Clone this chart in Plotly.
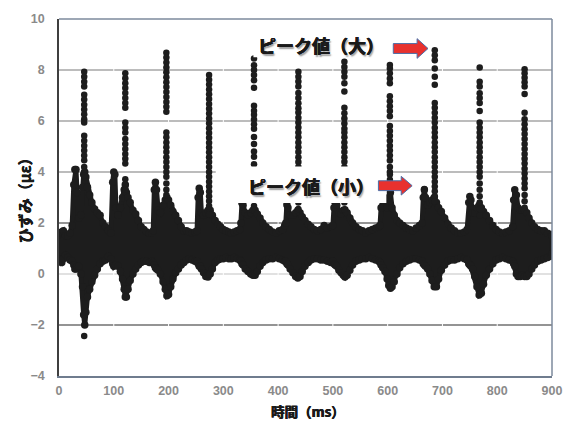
import plotly.graph_objects as go

# ---------------- data ----------------
# envelope of the dense band of samples: time (ms), upper and lower strain (με)
env_t = [0, 2, 5, 8, 12, 16, 20, 24, 27, 29, 31, 33, 36, 40, 43, 45, 47, 49, 52, 56, 60, 65, 70, 75, 80, 85, 90, 95,
         98, 100, 102, 104, 108, 112, 116, 119, 121, 123, 126, 130, 135, 140, 145, 150, 155, 160, 165, 170,
         172, 174, 176, 178, 181, 185, 190, 194, 197, 200, 204, 208, 213, 218, 223, 228, 233, 238, 243, 248,
         252, 254, 256, 258, 260, 264, 268, 272, 276, 280, 285, 290, 295, 300, 305, 310, 315, 320, 325, 330,
         332, 334, 336, 340, 345, 350, 354, 358, 362, 367, 372, 378, 384, 390, 396, 402, 408, 412,
         414, 416, 418, 422, 427, 432, 436, 440, 444, 449, 455, 460, 466, 472, 478, 484, 490, 496,
         500, 502, 504, 507, 511, 515, 519, 522, 526, 531, 536, 542, 548, 554, 560, 566, 572, 578, 584,
         586, 588, 591, 595, 599, 602, 605, 608, 612, 617, 622, 628, 634, 640, 646, 652, 658, 663,
         665, 667, 669, 673, 677, 681, 685, 689, 693, 698, 704, 710, 716, 722, 728, 734, 740, 745,
         748, 750, 752, 755, 759, 763, 767, 771, 775, 780, 786, 792, 798, 804, 810, 816, 822, 828,
         830, 832, 835, 838, 842, 846, 850, 854, 858, 863, 868, 874, 880, 886, 892, 898, 900]
env_hi = [1.55, 1.6, 1.65, 1.7, 1.5, 1.5, 1.6, 1.9, 3.5, 4.1, 4.1, 3.2, 2.2, 2.3, 3.4, 3.9, 4.0, 3.8, 3.4, 3.1, 2.8, 2.55, 2.4, 2.3, 2.0, 1.85, 1.7, 1.6,
          3.6, 4.0, 3.9, 2.6, 2.3, 2.6, 3.0, 3.3, 3.5, 3.2, 3.0, 2.8, 2.5, 2.35, 2.1, 1.85, 1.75, 1.65, 1.6, 1.6,
          1.7, 3.3, 3.6, 3.3, 2.5, 2.4, 2.7, 2.9, 3.0, 2.9, 2.7, 2.45, 2.3, 2.1, 1.85, 1.7, 1.7, 1.65, 1.6, 1.65,
          1.7, 3.0, 3.36, 3.2, 2.4, 2.3, 2.4, 2.5, 2.5, 2.3, 2.1, 1.95, 1.85, 1.75, 1.7, 1.65, 1.6, 1.65, 1.7, 1.75,
          2.0, 2.78, 2.7, 2.4, 2.3, 2.4, 2.5, 2.5, 2.35, 2.2, 2.0, 1.85, 1.75, 1.65, 1.6, 1.7, 1.75, 1.9,
          2.0, 2.72, 2.6, 2.3, 2.3, 2.4, 2.5, 2.4, 2.25, 2.1, 1.95, 1.85, 1.75, 1.7, 1.75, 1.9, 1.8, 1.85,
          1.9, 2.6, 2.8, 2.7, 2.4, 2.35, 2.5, 2.52, 2.4, 2.2, 2.0, 1.85, 1.75, 1.7, 1.62, 1.7, 1.75, 1.8, 1.85,
          1.9, 2.6, 2.9, 2.8, 2.6, 3.0, 3.2, 2.6, 2.3, 2.1, 2.0, 1.9, 1.8, 1.75, 1.7, 1.8, 1.9, 2.0,
          3.0, 3.3, 3.0, 2.7, 2.8, 2.9, 3.0, 2.8, 2.6, 2.45, 2.2, 1.95, 1.8, 1.7, 1.6, 1.6, 1.65, 1.75,
          2.8, 3.04, 2.9, 2.4, 2.4, 2.6, 2.7, 2.6, 2.45, 2.3, 2.1, 1.9, 1.75, 1.65, 1.6, 1.65, 1.7, 1.85,
          2.9, 3.3, 3.1, 2.6, 2.5, 2.5, 2.5, 2.4, 2.2, 2.0, 1.85, 1.75, 1.7, 1.7, 1.6, 1.55, 1.5]
env_lo = [0.6, 0.5, 0.45, 0.6, 0.75, 0.65, 0.55, 0.5, 0.35, 0.2, 0.2, 0.3, 0.3, 0.0, -0.5, -1.6, -2.0, -1.5, -0.9, -0.6, -0.3, -0.05, 0.2, 0.4, 0.5, 0.55, 0.7, 0.6,
          0.4, 0.3, 0.35, 0.35, 0.3, 0.1, -0.2, -0.6, -0.9, -0.9, -0.6, -0.25, 0.0, 0.2, 0.35, 0.45, 0.5, 0.5, 0.45, 0.5,
          0.45, 0.35, 0.25, 0.2, 0.15, 0.0, -0.3, -0.6, -0.85, -0.8, -0.5, -0.2, 0.05, 0.2, 0.35, 0.45, 0.55, 0.6, 0.55, 0.5,
          0.5, 0.4, 0.3, 0.3, 0.2, 0.05, -0.1, -0.12, 0.0, 0.2, 0.45, 0.55, 0.6, 0.6, 0.65, 0.6, 0.6, 0.65, 0.6, 0.55,
          0.5, 0.4, 0.35, 0.2, 0.1, 0.0, -0.05, -0.05, 0.1, 0.3, 0.45, 0.55, 0.6, 0.6, 0.65, 0.6, 0.55, 0.5,
          0.5, 0.4, 0.35, 0.2, 0.05, -0.1, -0.16, -0.1, 0.1, 0.3, 0.45, 0.55, 0.6, 0.6, 0.55, 0.55, 0.5, 0.45,
          0.5, 0.4, 0.35, 0.3, 0.15, 0.05, -0.05, -0.12, -0.05, 0.15, 0.35, 0.5, 0.55, 0.6, 0.6, 0.65, 0.6, 0.55, 0.5,
          0.45, 0.35, 0.25, 0.1, -0.2, -0.45, -0.56, -0.5, -0.3, 0.0, 0.25, 0.4, 0.5, 0.55, 0.6, 0.6, 0.55, 0.5,
          0.4, 0.35, 0.3, 0.2, 0.0, -0.25, -0.5, -0.5, -0.2, 0.15, 0.35, 0.5, 0.55, 0.55, 0.6, 0.65, 0.6, 0.55,
          0.4, 0.35, 0.3, 0.2, -0.1, -0.5, -0.82, -0.75, -0.4, -0.05, 0.2, 0.4, 0.55, 0.6, 0.65, 0.6, 0.55, 0.5,
          0.4, 0.3, 0.0, -0.1, -0.1, -0.05, -0.1, -0.1, 0.0, 0.2, 0.35, 0.5, 0.55, 0.6, 0.65, 0.7, 0.8]

# vertical stacks of samples at each impact peak
col_t = [46, 121, 196, 274, 356, 437, 521, 604, 686, 768, 850]
col_vals = [
    [7.93, 7.74, 7.54, 7.35, 7.03, 6.84, 6.64, 6.45, 6.26, 6.07, 5.94, 5.42, 5.23, 5.03, 4.84, 4.65, 4.46, 4.2, 4.0, 3.85],
    [7.87, 7.68, 7.48, 7.29, 7.1, 6.9, 6.71, 6.52, 5.94, 5.74, 5.55, 5.29, 5.1, 4.9, 4.71, 4.52, 4.33, 3.72, 3.5, 3.3],
    [8.68, 8.49, 8.29, 8.1, 7.91, 7.72, 7.52, 7.33, 7.14, 6.94, 6.75, 6.56, 6.36, 5.55, 5.36, 5.16, 4.97, 4.78, 4.58,
     4.39, 4.2, 4.0, 3.81, 3.55, 3.3, 3.1],
    [7.8, 7.62, 7.43, 7.24, 7.05, 6.86, 6.67, 6.48, 6.29, 6.1, 5.91, 5.72, 5.53, 5.34, 5.15, 4.96, 4.77, 4.58, 4.39,
     4.2, 4.0, 3.81, 3.62, 3.43, 3.24, 3.05, 2.86, 2.67, 2.33],
    [8.45, 8.19, 8.0, 7.8, 7.6, 7.3, 6.6, 6.4, 6.25, 6.06, 5.87, 5.7, 5.37, 5.1, 4.8, 4.6, 4.3, 4.1, 3.9, 3.7, 3.5,
     3.3, 3.1, 2.9, 2.67],
    [7.93, 7.74, 7.55, 7.35, 7.1, 6.9, 6.7, 6.5, 6.33, 6.13, 5.94, 5.75, 5.55, 5.36, 5.16, 4.97, 4.78, 4.58, 4.39,
     4.2, 4.0, 3.8, 3.6, 3.4, 3.2, 3.0, 2.8, 2.55],
    [8.32, 8.12, 7.93, 7.74, 7.48, 7.16, 6.52, 6.3, 6.1, 5.9, 5.7, 5.55, 5.36, 5.16, 4.97, 4.78, 4.58, 4.4, 4.2,
     4.0, 3.8, 3.6, 3.4, 3.2, 3.0, 2.8, 2.52],
    [8.2, 8.06, 7.87, 7.67, 7.48, 6.97, 6.77, 6.58, 6.39, 6.19, 5.8, 5.61, 5.42, 5.23, 5.03, 4.84, 4.65, 4.45, 4.2,
     4.0, 3.9, 3.7, 3.5, 3.3, 3.1],
    [8.77, 8.58, 8.38, 8.06, 7.74, 7.42, 6.71, 6.52, 6.32, 6.13, 5.94, 5.74, 5.55, 5.36, 5.16, 4.97, 4.78, 4.58,
     4.39, 4.2, 4.0, 3.81, 3.62, 3.43, 3.25, 3.05, 2.85],
    [8.1, 7.54, 7.35, 7.09, 6.9, 6.71, 6.39, 5.94, 5.74, 5.55, 5.36, 5.16, 4.97, 4.78, 4.58, 4.39, 4.2, 4.0, 3.81,
     3.55, 3.3, 3.05, 2.8, 2.55, 2.3],
    [8.03, 7.87, 7.7, 7.52, 7.35, 7.06, 6.32, 6.07, 5.87, 5.68, 5.49, 5.29, 5.1, 4.9, 4.71, 4.52, 4.33, 4.13, 3.94,
     3.75, 3.55, 3.36, 3.1, 2.85, 2.6],
]
# isolated samples
extra_t = [46, 667]
extra_v = [-2.43, 3.33]

x_ticks = [0, 100, 200, 300, 400, 500, 600, 700, 800, 900]
y_ticks = [-4, -2, 0, 2, 4, 6, 8, 10]

label_big = "ピーク値（大）"
label_small = "ピーク値（小）"
x_title = "時間（ms）"
y_title = "ひずみ（με）"

# ---------------- styling ----------------
W, H = 574, 423
ML, MR, MT, MB = 59, 18, 13, 47
PW, PH = W - ML - MR, H - MT - MB
DOT = "#1d1d1d"
JP = "Noto Sans CJK JP"
FAKE_BOLD = "0.5px 0 0 #1a1a1a, -0.3px 0 0 #1a1a1a, 0 0.3px 0 #1a1a1a, 1.5px 1.5px 1.5px #9a9a9a"
FAKE_BOLD_SMALL = "0.4px 0 0 #1a1a1a, -0.2px 0 0 #1a1a1a"


def px(x):
    return (x - ML) / PW


def py(y):
    return (H - MB - y) / PH


fig = go.Figure()

# dense band as filled envelope
poly_x = env_t + env_t[::-1]
poly_y = env_hi + env_lo[::-1]
fig.add_trace(go.Scatter(x=poly_x, y=poly_y, mode="lines", fill="toself", fillcolor=DOT,
                         line=dict(color=DOT, width=5), hoverinfo="skip", showlegend=False))
fig.add_trace(go.Scatter(x=env_t + env_t, y=env_hi + env_lo, mode="markers",
                         marker=dict(color=DOT, size=7.5), showlegend=False))

cx, cy = [], []
for t, vals in zip(col_t, col_vals):
    cx += [t] * len(vals)
    cy += vals
fig.add_trace(go.Scatter(x=cx + extra_t, y=cy + extra_v, mode="markers",
                         marker=dict(color=DOT, size=6.5), showlegend=False))

shapes = []
grid_colors = {-2: "#2a2a2a", 0: "#c4c4c4", 2: "#2a2a2a", 4: "#7a7a7a", 6: "#7a7a7a", 8: "#7a7a7a"}
for yv, c in grid_colors.items():
    shapes.append(dict(type="line", xref="paper", yref="y", x0=0, x1=1, y0=yv, y1=yv,
                       line=dict(color=c, width=1.2), layer="below"))
for xv in x_ticks[1:-1]:
    shapes.append(dict(type="line", xref="x", yref="paper", x0=xv, x1=xv, y0=0, y1=1,
                       line=dict(color="white", width=1), layer="below"))
# right and top border
shapes.append(dict(type="line", xref="paper", yref="paper", x0=1, x1=1, y0=0, y1=1,
                   line=dict(color="#7d8a9c", width=1.5)))
shapes.append(dict(type="line", xref="paper", yref="paper", x0=0, x1=1, y0=1, y1=1,
                   line=dict(color="#7d8a9c", width=1.5)))
# white label boxes (hide samples behind the labels)
shapes.append(dict(type="rect", xref="paper", yref="paper", x0=px(217), x1=px(389), y0=py(200), y1=py(163),
                   fillcolor="white", line=dict(width=0), layer="above"))
shapes.append(dict(type="rect", xref="paper", yref="paper", x0=px(255), x1=px(392), y0=py(52), y1=py(24),
                   fillcolor="white", line=dict(width=0), layer="above"))


def arrow(x0, x1, xh, yc, hs, hh):
    pts = [(x0, yc - hs), (xh, yc - hs), (xh, yc - hh), (x1, yc), (xh, yc + hh), (xh, yc + hs), (x0, yc + hs)]
    return "M " + " L ".join(f"{px(a):.5f},{py(b):.5f}" for a, b in pts) + " Z"


for path in [arrow(396, 431, 420, 43, 5, 10), arrow(381, 415, 404, 182.5, 5, 9.5)]:
    shapes.append(dict(type="path", xref="paper", yref="paper", path=path,
                       fillcolor="#e8312e", line=dict(color="#4a6ea8", width=1), layer="above"))

ann_font = dict(family=JP, size=18, color="#1a1a1a", weight="bold", shadow=FAKE_BOLD)
title_font = dict(family=JP, size=13.5, color="#1a1a1a", weight="bold", shadow=FAKE_BOLD_SMALL)
ytitle_font = dict(family=JP, size=15, color="#1a1a1a", weight="bold", shadow=FAKE_BOLD_SMALL)
annotations = [
    dict(text=label_big, xref="paper", yref="paper", x=px(323), y=py(39), showarrow=False, font=ann_font,
         xanchor="center", yanchor="middle"),
    dict(text=label_small, xref="paper", yref="paper", x=px(313), y=py(183), showarrow=False, font=ann_font,
         xanchor="center", yanchor="middle"),
    dict(text=x_title, xref="paper", yref="paper", x=px(310), y=py(412), showarrow=False, font=title_font,
         xanchor="center", yanchor="middle"),
    dict(text=y_title, xref="paper", yref="paper", x=px(24), y=py(194), showarrow=False, textangle=-90,
         font=ytitle_font, xanchor="center", yanchor="middle"),
]

tickfont = dict(family="Liberation Sans", size=12.5, color="#8a8a8a", weight="bold")
fig.update_layout(
    width=W, height=H, margin=dict(l=ML, r=MR, t=MT, b=MB),
    paper_bgcolor="white", plot_bgcolor="white", showlegend=False,
    shapes=shapes, annotations=annotations,
    xaxis=dict(range=[0, 900], tickvals=x_ticks, showgrid=False, zeroline=False, showline=True,
               linecolor="#6f7c8e", linewidth=1.5, mirror=False, ticks="", tickfont=tickfont,
               ticklabelstandoff=2),
    yaxis=dict(range=[-4, 10], tickvals=y_ticks, showgrid=False, zeroline=False, showline=True,
               linecolor="#3f3f3f", linewidth=1.5, ticks="", tickfont=tickfont, ticklabelstandoff=10),
)

fig.write_html("out.html")
